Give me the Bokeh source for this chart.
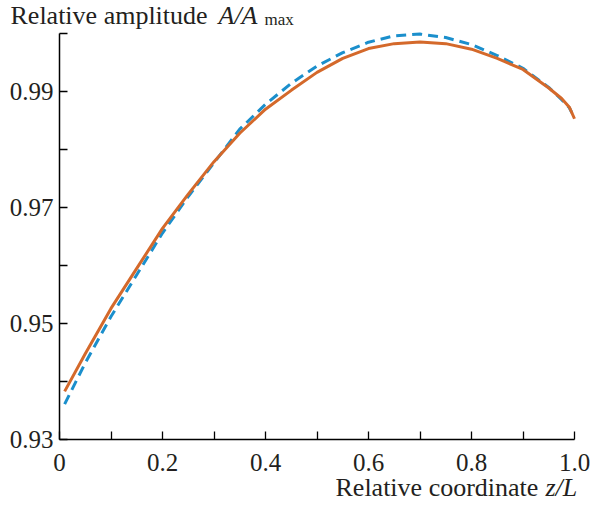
from bokeh.plotting import figure
from bokeh.models import Range1d, FixedTicker, Label, LinearAxis
from bokeh.embed import file_html
from bokeh.resources import INLINE

# data
z_orange = [0.01, 0.05, 0.10, 0.15, 0.20, 0.25, 0.30, 0.35, 0.40, 0.45, 0.50,
            0.55, 0.60, 0.65, 0.70, 0.75, 0.80, 0.85, 0.90, 0.95, 0.975, 0.99, 1.00]
a_orange = [0.9383, 0.9448, 0.9526, 0.9595, 0.9664, 0.9723, 0.9779, 0.9828, 0.98695, 0.9902, 0.9933,
            0.9957, 0.9974, 0.99825, 0.99855, 0.99825, 0.9973, 0.9957, 0.9938, 0.9906, 0.9888, 0.9873, 0.9853]

z_blue = [0.01, 0.05, 0.10, 0.15, 0.20, 0.25, 0.30, 0.35, 0.40, 0.45, 0.50,
          0.55, 0.60, 0.65, 0.70, 0.75, 0.80, 0.85, 0.90, 0.95, 0.975, 0.99, 0.995]
a_blue = [0.9361, 0.9432, 0.9512, 0.9584, 0.9656, 0.9719, 0.9777, 0.9835, 0.9878, 0.9914, 0.9944,
          0.9967, 0.9985, 0.9996, 0.9999, 0.9993, 0.9981, 0.9962, 0.9940, 0.9907, 0.9886, 0.9872, 0.9863]

x_major = [0, 0.2, 0.4, 0.6, 0.8, 1.0]
x_minor = [0.1, 0.3, 0.5, 0.7, 0.9]
x_labels = ["0", "0.2", "0.4", "0.6", "0.8", "1.0"]
y_major = [0.93, 0.95, 0.97, 0.99]
y_minor = [0.94, 0.96, 0.98, 1.00]
y_labels = ["0.93", "0.95", "0.97", "0.99"]

X_MIN, X_MAX = 0.0, 1.0
Y_MIN, Y_MAX = 0.93, 1.0

FONT = "Liberation Serif"
TXT = "#231f20"
W, H = 590, 504
# axes box inside the canvas (pixels)
BOX_L, BOX_R, BOX_T, BOX_B = 59, 574, 33, 439

sx = (X_MAX - X_MIN) / (BOX_R - BOX_L)
sy = (Y_MAX - Y_MIN) / (BOX_B - BOX_T)
x_range = Range1d(X_MIN - BOX_L * sx, X_MAX + (W - BOX_R) * sx)
y_range = Range1d(Y_MIN - (H - BOX_B) * sy, Y_MAX + BOX_T * sy)

p = figure(width=W, height=H, output_backend="svg", toolbar_location=None,
           x_range=x_range, y_range=y_range, x_axis_location=None, y_axis_location=None,
           min_border=0)
p.min_border_left = p.min_border_right = p.min_border_top = p.min_border_bottom = 0
p.title.visible = False
p.outline_line_color = None
p.grid.visible = False
p.background_fill_color = "white"
p.border_fill_color = "white"

p.line(z_blue, a_blue, line_color="#1b8fcc", line_width=3, line_dash="10 6")
p.line(z_orange, a_orange, line_color="#d4692b", line_width=3)

xax = LinearAxis(fixed_location=Y_MIN, bounds=(X_MIN, X_MAX))
yax = LinearAxis(fixed_location=X_MIN, bounds=(Y_MIN, Y_MAX))
p.add_layout(xax, "below")
p.add_layout(yax, "left")

for ax, major, minor, labels in ((xax, x_major, x_minor, x_labels),
                                  (yax, y_major, y_minor, y_labels)):
    ax.ticker = FixedTicker(ticks=major, minor_ticks=minor)
    ax.major_label_overrides = {v: s for v, s in zip(major, labels)}
    ax.major_tick_in = 8
    ax.major_tick_out = 0
    ax.minor_tick_in = 8
    ax.minor_tick_out = 0
    ax.axis_line_color = "black"
    ax.axis_line_width = 1.5
    ax.major_tick_line_width = 1.3
    ax.minor_tick_line_width = 1.3
    ax.major_tick_line_color = "black"
    ax.minor_tick_line_color = "black"
    ax.major_label_text_font = FONT
    ax.major_label_text_font_size = "25px"
    ax.major_label_text_color = TXT

xax.major_label_standoff = 14
yax.major_label_standoff = 6

# y-axis title (top left); screen units measured from the frame's bottom-left
p.add_layout(Label(x=10, y=H - 15, x_units="screen", y_units="screen", text="Relative amplitude",
                   text_font=FONT, text_font_size="26px", text_color=TXT,
                   text_baseline="alphabetic", text_align="left"))
p.add_layout(Label(x=218, y=H - 15, x_units="screen", y_units="screen", text="A/A",
                   text_font=FONT, text_font_size="26px", text_font_style="italic",
                   text_color=TXT, text_baseline="alphabetic", text_align="left"))
p.add_layout(Label(x=264, y=H - 19, x_units="screen", y_units="screen", text="max",
                   text_font=FONT, text_font_size="17px", text_color=TXT,
                   text_baseline="alphabetic", text_align="left"))

# x-axis title (bottom right)
p.add_layout(Label(x=335, y=H - 487, x_units="screen", y_units="screen", text="Relative coordinate",
                   text_font=FONT, text_font_size="26px", text_color=TXT,
                   text_baseline="alphabetic", text_align="left"))
p.add_layout(Label(x=545, y=H - 487, x_units="screen", y_units="screen", text="z/L",
                   text_font=FONT, text_font_size="26px", text_font_style="italic",
                   text_color=TXT, text_baseline="alphabetic", text_align="left"))

open("out.html", "w").write(file_html(p, INLINE))
